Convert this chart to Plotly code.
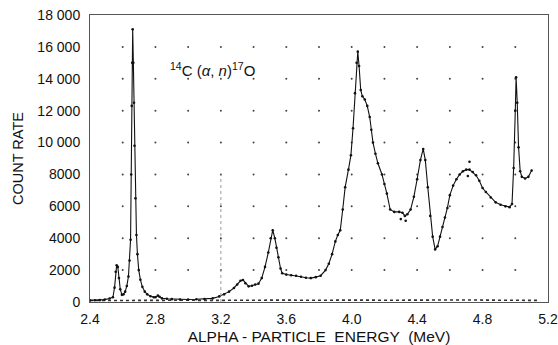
import plotly.graph_objects as go

# Measured spectrum (alpha-particle energy in MeV, count rate)
energy = [2.40, 2.43, 2.46, 2.49, 2.52, 2.54, 2.550, 2.557, 2.563, 2.570, 2.577, 2.585,
          2.595, 2.605, 2.615, 2.625, 2.635, 2.642, 2.648, 2.652, 2.655, 2.658, 2.661,
          2.665, 2.669, 2.672, 2.678, 2.684, 2.690, 2.698, 2.708, 2.720, 2.735, 2.75,
          2.77, 2.79, 2.80, 2.815, 2.825, 2.84, 2.87, 2.90, 2.95, 3.00, 3.05, 3.10, 3.15,
          3.19, 3.22, 3.25, 3.28, 3.30, 3.32, 3.335, 3.35, 3.37, 3.39, 3.41, 3.43, 3.45,
          3.47, 3.49, 3.505, 3.517, 3.53, 3.54, 3.552, 3.565, 3.575, 3.60, 3.63, 3.66,
          3.69, 3.72, 3.75, 3.78, 3.81, 3.84, 3.86, 3.88, 3.90, 3.915, 3.93, 3.945, 3.96,
          3.98, 3.995, 4.008, 4.02, 4.03, 4.037, 4.045, 4.055, 4.065, 4.08, 4.095, 4.11,
          4.12, 4.13, 4.145, 4.16, 4.185, 4.20, 4.215, 4.235, 4.26, 4.29, 4.31, 4.325,
          4.34, 4.36, 4.38, 4.40, 4.42, 4.437, 4.45, 4.465, 4.48, 4.495, 4.51, 4.525,
          4.54, 4.555, 4.57, 4.585, 4.60, 4.62, 4.64, 4.66, 4.68, 4.70, 4.72, 4.74, 4.76,
          4.78, 4.80, 4.82, 4.85, 4.88, 4.91, 4.94, 4.965, 4.98, 4.99, 5.00, 5.005, 5.012,
          5.02, 5.03, 5.04, 5.06, 5.08, 5.10]
counts = [100, 110, 120, 150, 220, 300, 900, 1900, 2300, 2200, 1500, 800,
          450, 480, 650, 1000, 1600, 2600, 3900, 8000, 12300, 15000, 17100,
          15000, 12500, 9800, 6500, 4200, 3000, 2000, 1400, 950, 650, 480,
          360, 300, 300, 400, 330, 230, 200, 180, 160, 160, 170, 190, 230,
          350, 480, 650, 880, 1100, 1330, 1380, 1180, 980, 1020, 1100, 1150, 1500,
          2200, 3100, 4000, 4500, 4000, 3400, 2800, 2100, 1800, 1720, 1680, 1650,
          1580, 1520, 1500, 1560, 1650, 2000, 2400, 3000, 3800, 4200, 4500, 5800, 7200,
          8300, 9200, 10900, 13100, 15000, 15700, 14800, 13300, 12900, 12700, 12300, 11600,
          10800, 10000, 9300, 8700, 8000, 7400, 6800, 5800, 5650, 5650, 5600, 5400,
          5500, 5800, 6600, 7700, 8900, 9600, 8900, 7200, 5400, 4100, 3300, 3500,
          4100, 4700, 5300, 5900, 6700, 7300, 7700, 8000, 8200, 8300, 8300, 8150, 7950,
          7600, 7150, 6900, 6550, 6250, 6100, 6000, 5950, 6150, 8400, 12000, 14100, 12500,
          9700, 8200, 7850, 7750, 7850, 8250]

# Scattered extra points
extra_e = [4.30, 4.33, 4.72, 4.71]
extra_c = [5200, 5100, 8800, 7900]

# Background run near zero
bg_e = [2.40, 2.50, 2.60, 2.70, 2.80, 2.90, 3.00, 3.10, 3.20, 3.30, 3.40, 3.50, 3.60,
        3.70, 3.80, 3.90, 4.00, 4.10, 4.20, 4.30, 4.40, 4.50, 4.60, 4.70, 4.80, 4.90,
        5.00, 5.10, 5.15]
bg_c = [90, 100, 90, 110, 100, 120, 110, 100, 110, 120, 100, 110, 120,
        110, 120, 130, 110, 120, 110, 120, 130, 120, 110, 130, 120, 120,
        130, 110, 100]

x_ticks = [2.4, 2.8, 3.2, 3.6, 4.0, 4.4, 4.8, 5.2]
x_ticktext = ["2.4", "2.8", "3.2", "3.6", "4.0", "4.4", "4.8", "5.2"]
y_ticks = [0, 2000, 4000, 6000, 8000, 10000, 12000, 14000, 16000, 18000]
y_ticktext = ["0", "2000", "4000", "6000", "8000", "10 000", "12 000", "14 000", "16 000", "18 000"]

grid_x_vals = [2.6, 2.8, 3.0, 3.2, 3.4, 3.6, 3.8, 4.0, 4.2, 4.4, 4.6, 4.8, 5.0]
grid_y_vals = [2000, 4000, 6000, 8000, 10000, 12000, 14000, 16000]

gx = [x for y in grid_y_vals for x in grid_x_vals]
gy = [y for y in grid_y_vals for x in grid_x_vals]

font = "Liberation Sans, Arial, sans-serif"

fig = go.Figure()
fig.add_trace(go.Scatter(x=gx, y=gy, mode="markers",
                         marker=dict(size=2, color="#444"), hoverinfo="skip",
                         showlegend=False))
fig.add_trace(go.Scatter(x=bg_e, y=bg_c, mode="lines",
                         line=dict(color="#333", width=1.6, dash="dot"),
                         showlegend=False))
fig.add_trace(go.Scatter(x=energy, y=counts, mode="lines+markers",
                         line=dict(color="#111", width=1.1),
                         marker=dict(size=2.6, color="#111"), showlegend=False))
fig.add_trace(go.Scatter(x=extra_e, y=extra_c, mode="markers",
                         marker=dict(size=2.6, color="#111"), showlegend=False))

# faint vertical dotted line at 3.2 MeV
fig.add_shape(type="line", x0=3.2, x1=3.2, y0=0, y1=8000, xref="x", yref="y",
              line=dict(color="#999", width=1, dash="dot"))

fig.add_annotation(x=3.15, y=14600, xref="x", yref="y", showarrow=False,
                   text="<sup>14</sup>C (<i>α</i>, <i>n</i>)<sup>17</sup>O",
                   font=dict(family=font, size=15, color="#111"))

fig.update_layout(
    width=558, height=345,
    margin=dict(l=90, r=10, t=15, b=43),
    paper_bgcolor="white", plot_bgcolor="white",
    font=dict(family=font, size=14, color="#111"),
    xaxis=dict(range=[2.4, 5.2], tickvals=x_ticks, ticktext=x_ticktext,
               showgrid=False, zeroline=False, showline=True, mirror=True,
               linecolor="#555", linewidth=1, ticks="outside", ticklen=4,
               tickcolor="rgba(0,0,0,0)", automargin=False,
               title=dict(text="ALPHA - PARTICLE  ENERGY  (MeV)", standoff=10,
                          font=dict(size=15.5))),
    yaxis=dict(range=[0, 18000], tickvals=y_ticks, ticktext=y_ticktext,
               showgrid=False, zeroline=False, showline=True, mirror=True,
               linecolor="#555", linewidth=1, ticks="outside", ticklen=6,
               tickcolor="rgba(0,0,0,0)", automargin=False,
               title=dict(text="COUNT RATE", standoff=10, font=dict(size=14.5))),
)

fig.write_html("out.html", config={"displayModeBar": False},
               post_script="document.body.style.margin='0';document.body.style.overflow='hidden';")
